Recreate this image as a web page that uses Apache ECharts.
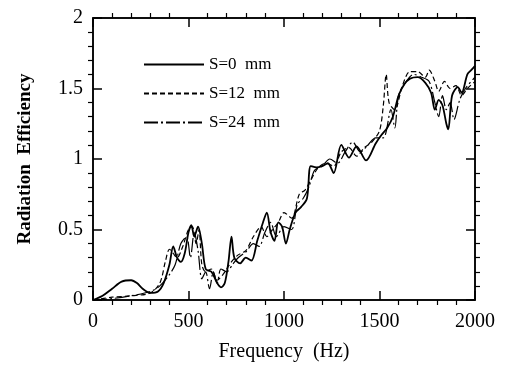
<!DOCTYPE html>
<html>
<head>
<meta charset="utf-8">
<script src="https://cdn.jsdelivr.net/npm/echarts@6/dist/echarts.min.js"></script>
<style>
  html, body { margin: 0; padding: 0; background: #fff; }
  #main { width: 512px; height: 372px; }
</style>
</head>
<body>
<div id="main"></div>
<script>
// data
var freqS0 = [0,50,100,150,200,230,260,300,340,370,400,420,440,460,480,500,515,530,550,570,590,620,650,670,690,710,725,740,770,800,830,860,890,910,930,950,970,990,1010,1030,1060,1090,1120,1140,1170,1200,1230,1260,1300,1340,1380,1430,1480,1510,1540,1570,1600,1630,1660,1700,1740,1770,1790,1810,1830,1850,1860,1880,1910,1930,1960,1980,2000];
var effS0 = [0,0.03,0.08,0.13,0.14,0.12,0.08,0.05,0.06,0.12,0.25,0.38,0.30,0.27,0.33,0.48,0.53,0.45,0.52,0.40,0.22,0.20,0.12,0.09,0.12,0.28,0.45,0.30,0.26,0.30,0.28,0.42,0.55,0.62,0.48,0.42,0.55,0.52,0.40,0.50,0.62,0.66,0.72,0.95,0.94,0.95,0.97,0.90,1.10,1.01,1.09,0.99,1.11,1.17,1.22,1.30,1.45,1.53,1.57,1.58,1.54,1.47,1.35,1.42,1.38,1.25,1.21,1.45,1.51,1.47,1.60,1.63,1.66];

var freqS12 = [0,100,200,300,350,380,400,420,440,470,500,520,540,555,570,590,620,650,680,700,730,760,800,840,880,910,940,970,1000,1040,1080,1110,1140,1180,1220,1260,1300,1340,1380,1420,1460,1500,1520,1535,1550,1580,1620,1660,1700,1740,1760,1790,1810,1840,1870,1900,1930,1960,2000];
var effS12 = [0,0.02,0.03,0.05,0.12,0.28,0.36,0.33,0.30,0.38,0.50,0.52,0.40,0.50,0.25,0.20,0.22,0.14,0.18,0.22,0.28,0.32,0.35,0.45,0.52,0.45,0.50,0.55,0.62,0.58,0.75,0.78,0.85,0.94,0.97,0.95,1.05,1.08,1.02,1.08,1.12,1.20,1.38,1.60,1.40,1.35,1.52,1.62,1.62,1.58,1.63,1.55,1.48,1.55,1.50,1.52,1.45,1.50,1.55];

var freqS24 = [0,100,200,300,350,400,430,460,490,510,530,550,570,590,610,630,650,670,700,730,760,800,840,870,900,930,960,1000,1040,1070,1100,1130,1160,1200,1240,1280,1320,1360,1400,1440,1480,1520,1560,1580,1600,1640,1680,1720,1760,1790,1810,1830,1850,1870,1890,1920,1950,2000];
var effS24 = [0,0.01,0.03,0.06,0.10,0.18,0.25,0.40,0.45,0.30,0.48,0.35,0.15,0.20,0.08,0.20,0.12,0.22,0.20,0.25,0.30,0.34,0.40,0.38,0.48,0.55,0.45,0.52,0.50,0.68,0.72,0.80,0.92,0.95,1.00,0.97,1.05,1.12,1.05,1.10,1.15,1.15,1.35,1.22,1.45,1.55,1.60,1.58,1.55,1.40,1.30,1.45,1.35,1.40,1.28,1.42,1.50,1.58];

var seriesNames = ['S=0  mm', 'S=12  mm', 'S=24  mm'];

function zip(xs, ys) {
  return xs.map(function (x, i) { return [x, ys[i]]; });
}

var font = 'Liberation Serif';
var myChart = echarts.init(document.getElementById('main'));

var tickAxis = {
  axisLine: { show: true, onZero: false, lineStyle: { color: '#000', width: 1.5 } },
  axisTick: { show: true, inside: true, length: 9, lineStyle: { color: '#000', width: 1.5 } },
  minorTick: { show: true, splitNumber: 5, length: -5, lineStyle: { color: '#000', width: 1.2 } },
  splitLine: { show: false }
};

var option = {
  animation: false,
  backgroundColor: '#fff',
  grid: { left: 93, right: 37, top: 18, bottom: 72, show: true, borderColor: '#000', borderWidth: 1.5 },
  legend: {
    data: seriesNames,
    orient: 'vertical',
    left: 138,
    top: 51,
    itemWidth: 60,
    itemHeight: 14,
    itemGap: 12,
    itemStyle: { opacity: 0 },
    textStyle: { fontFamily: font, fontSize: 17, color: '#000' }
  },
  xAxis: [
    Object.assign({}, tickAxis, {
      type: 'value', min: 0, max: 2000, interval: 500, position: 'bottom',
      name: 'Frequency  (Hz)', nameLocation: 'middle', nameGap: 42,
      nameTextStyle: { fontFamily: font, fontSize: 20, color: '#000' },
      axisLabel: { fontFamily: font, fontSize: 20, color: '#000', margin: 12,
        formatter: function (v) { return String(v); } }
    }),
    Object.assign({}, tickAxis, {
      type: 'value', min: 0, max: 2000, interval: 500, position: 'top',
      axisLabel: { show: false }
    })
  ],
  yAxis: [
    Object.assign({}, tickAxis, {
      type: 'value', min: 0, max: 2, interval: 0.5, position: 'left',
      name: 'Radiation  Efficiency', nameLocation: 'middle', nameGap: 58,
      nameTextStyle: { fontFamily: font, fontSize: 19, fontWeight: 'bold', color: '#000' },
      axisLabel: { fontFamily: font, fontSize: 20, color: '#000', margin: 10 }
    }),
    Object.assign({}, tickAxis, {
      type: 'value', min: 0, max: 2, interval: 0.5, position: 'right',
      axisLabel: { show: false }
    })
  ],
  series: [
    {
      name: seriesNames[0], type: 'line', symbol: 'none', smooth: 0.3,
      data: zip(freqS0, effS0),
      lineStyle: { color: '#000', width: 1.8, type: 'solid' },
      itemStyle: { color: '#000' }
    },
    {
      name: seriesNames[1], type: 'line', symbol: 'none', smooth: 0.3,
      data: zip(freqS12, effS12),
      lineStyle: { color: '#000', width: 1.2, type: [5, 3] },
      itemStyle: { color: '#000' }
    },
    {
      name: seriesNames[2], type: 'line', symbol: 'none', smooth: 0.3,
      data: zip(freqS24, effS24),
      lineStyle: { color: '#000', width: 1.2, type: [14, 3, 2, 3] },
      itemStyle: { color: '#000' }
    },
    {
      // binds the mirrored top/right axes so they are drawn
      type: 'line', xAxisIndex: 1, yAxisIndex: 1, data: [], silent: true
    }
  ]
};
myChart.setOption(option);
</script>
</body>
</html>
